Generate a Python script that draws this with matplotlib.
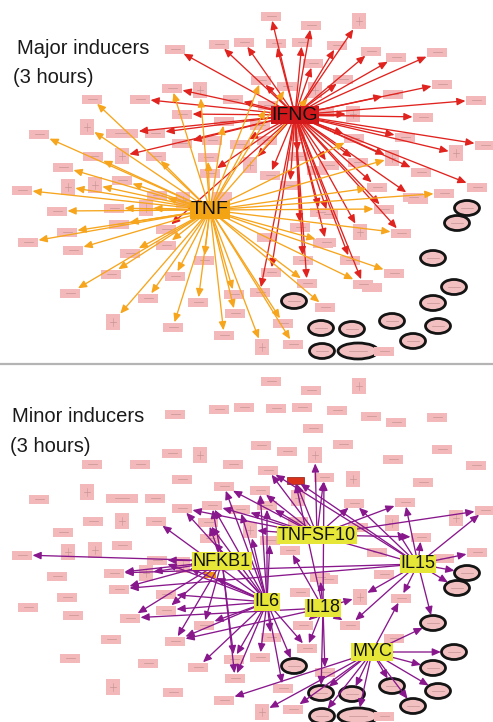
import numpy as np
import matplotlib.pyplot as plt
from matplotlib.patches import Rectangle, Ellipse, FancyArrowPatch
from matplotlib.lines import Line2D

plt.rcParams['font.family'] = ['Liberation Sans', 'DejaVu Sans']

# gene layout in pixels (y down), shared by both panels
node_x = [175, 219, 244, 271, 311, 359, 276, 302, 337, 371, 396, 437, 313, 172, 200, 92, 140, 233, 261, 287,
          343, 442, 393, 476, 315, 182, 224, 268, 324, 353, 423, 39, 87, 122, 155, 182, 212, 405, 354, 485,
          93, 122, 156, 208, 63, 210, 456, 392, 421, 329, 358, 298, 22, 68, 95, 122, 157, 57, 114, 146,
          119, 67, 28, 73, 166, 166, 130, 204, 111, 175, 70, 148, 198, 234, 235, 113, 173, 224, 377, 413,
          444, 477, 467, 457, 384, 328, 360, 401, 300, 326, 303, 350, 433, 394, 307, 363, 454, 271, 260, 294,
          325, 433, 392, 321, 352, 438, 283, 413, 262, 293, 322, 358, 384, 260, 240, 267, 298, 250, 270, 183,
          290, 320]
node_y = [49, 44, 42, 16, 25, 21, 43, 42, 45, 51, 57, 52, 63, 88, 90, 99, 99, 99, 80, 86,
          79, 84, 94, 100, 90, 114, 121, 105, 112, 114, 117, 134, 127, 133, 133, 143, 140, 137, 138, 145,
          156, 156, 156, 157, 167, 173, 153, 158, 172, 165, 162, 156, 190, 187, 185, 180, 195, 211, 208, 208,
          224, 232, 242, 250, 229, 245, 253, 260, 274, 276, 293, 298, 302, 294, 313, 322, 327, 335, 187, 197,
          193, 187, 208, 223, 209, 214, 232, 233, 227, 242, 260, 260, 258, 273, 283, 284, 287, 272, 292, 301,
          307, 303, 321, 328, 329, 326, 323, 341, 347, 344, 351, 351, 351, 125, 144, 140, 133, 165, 175, 200,
          185, 212]
# n = plain box, t = tall box, w = wide box, c = circled, C = wide circled
node_kind = ("nnnnntnnnnnnnntnnnnn"
             "nnnntnnnntnntwnnnnnn"
             "ntnnnnttnnnnnttnnnnt"
             "nnnnnnnnnnnnnnntnnnn"
             "nnccnntnnnnncnnncnnc"
             "ncccccnctncCnnnnttnt"
             "nn")

major_names = ['IFNG', 'TNF']
major_x = [295, 210]
major_y = [115, 210]

minor_names = ['NFKB1', 'TNFSF10', 'IL15', 'IL6', 'IL18', 'MYC']
minor_x = [222, 317, 418, 267, 323, 372]
minor_y = [196, 170, 199, 237, 243, 287]

ifng_targets = [0, 1, 2, 3, 4, 5, 6, 7, 8, 9, 10, 11, 12, 13, 16, 17, 18, 20, 21, 22, 23, 25, 28, 29, 30,
                33, 34, 37, 39, 41, 46, 47, 48, 49, 50, 78, 79, 81, 84, 85, 86, 87, 88, 89, 90, 91, 94, 95,
                97, 98, 64, 35, 45, 117, 118, 120, 121, 51, 38, 114, 113, 116]
tnf_targets = [13, 14, 15, 18, 19, 24, 26, 27, 31, 32, 38, 40, 44, 47, 52, 53, 54, 55, 56, 57, 58, 59, 60,
               61, 62, 63, 65, 66, 67, 68, 69, 70, 71, 72, 73, 74, 75, 76, 77, 78, 80, 84, 87, 89, 93, 94,
               95, 100, 106, 108, 109, 42, 43, 119]

nfkb1_targets = [52, 56, 58, 59, 60, 65, 66, 69, 67, 73, 74, 36, 43, 119, 'TNF']
tnfsf10_targets = [27, 24, 'IFNG', 28, 38, 37, 39, 48, 113, 26, 115, 117, 114, 35]
il15_targets = [81, 82, 83, 92, 87, 80, 47, 48, 39, 37, 38, 36, 86, 91, 58, 60, 'IFNG', 27]
il6_targets = [26, 35, 36, 43, 45, 42, 119, 67, 69, 73, 74, 97, 98, 99, 106, 94, 72, 64, 65, 113, 114,
               115, 117, 118, 'TNF', 56]
il18_targets = [28, 'IFNG', 91, 94, 100, 103, 89, 90, 120, 121, 66, 69, 86]
myc_targets = [92, 96, 101, 105, 107, 102, 111, 104, 103, 110, 109, 93, 87, 77, 108]

PINK = '#f3b9ba'
RED = '#e0231e'
ORANGE = '#f6a51c'
PURPLE = '#88178c'
YELLOW = '#e6e638'

half = {'n': (10, 4.5), 't': (7, 8), 'w': (16, 4.5), 'c': (12.5, 7.5), 'C': (20, 8),
        'ifng': (8.5, 3.5), 'tnf': (6, 3)}


def target_info(t):
    if t == 'IFNG':
        return major_x[0], major_y[0], 'ifng'
    if t == 'TNF':
        return major_x[1], major_y[1], 'tnf'
    return node_x[t], node_y[t], node_kind[t]


def draw_nodes(ax):
    for x, y, k in zip(node_x, node_y, node_kind):
        hw, hh = half[k]
        if k in 'cC':
            ax.add_patch(Ellipse((x, y), 2 * hw, 2 * hh, fc='#f2c0c0', ec='#141414', lw=2.0, zorder=1))
        else:
            ax.add_patch(Rectangle((x - hw, y - hh), 2 * hw, 2 * hh, fc=PINK, ec='none', zorder=1))
        ax.plot([x - hw * 0.45, x + hw * 0.45], [y, y], color='#c49393', lw=0.5, zorder=1.2)
        if k == 't':
            ax.plot([x, x], [y - hh * 0.5, y + hh * 0.5], color='#c49393', lw=0.4, zorder=1.2)


def draw_edges(ax, sx, sy, targets, color):
    for t in targets:
        tx, ty, k = target_info(t)
        hw, hh = half[k]
        dx, dy = tx - sx, ty - sy
        if k in 'cC':
            f = 1 / np.hypot(dx / hw, dy / hh)
        else:
            f = min(hw / abs(dx) if dx else np.inf, hh / abs(dy) if dy else np.inf)
        ex, ey = tx - dx * f * 1.05, ty - dy * f * 1.05
        ax.add_patch(FancyArrowPatch((sx, sy), (ex, ey),
                                     arrowstyle='-|>,head_length=0.5,head_width=0.22',
                                     mutation_scale=10, color=color, lw=0.95,
                                     shrinkA=0, shrinkB=0, zorder=2))


def hub_label(ax, x, y, name, fc, size=14):
    ax.text(x, y, name, ha='center', va='center', fontsize=size, color='#111111', zorder=4,
            bbox=dict(boxstyle='square,pad=0.05', fc=fc, ec='none'))


fig = plt.figure(figsize=(4.93, 7.22), dpi=100)
top = fig.add_axes([0, 1 - 363 / 722, 1, 363 / 722])
bottom = fig.add_axes([0, 0, 1, 357 / 722])
for ax, h in ((top, 363), (bottom, 357)):
    ax.set_xlim(0, 493)
    ax.set_ylim(h, 0)
    ax.axis('off')

# Major inducers
draw_nodes(top)
for x, y in zip(minor_x, minor_y):
    top.add_patch(Rectangle((x - 10, y - 4.5), 20, 9, fc=PINK, ec='none', zorder=1))
draw_edges(top, major_x[0], major_y[0], ifng_targets, RED)
draw_edges(top, major_x[1], major_y[1], tnf_targets, ORANGE)
hub_label(top, major_x[0], major_y[0], 'IFNG', '#d2181b')
hub_label(top, major_x[1], major_y[1], 'TNF', '#f3a414')
top.text(17, 54, 'Major inducers', fontsize=14.5, color='#1a1a1a', va='baseline')
top.text(13, 83, '(3 hours)', fontsize=14.5, color='#1a1a1a', va='baseline')

# Minor inducers
draw_nodes(bottom)
bottom.add_patch(Rectangle((major_x[0] - 8.5, major_y[0] - 3.5), 17, 7, fc='#d9301a', ec='#8a1a10',
                           lw=0.5, zorder=1))
bottom.add_patch(Rectangle((major_x[1] - 6, major_y[1] - 3), 12, 6, fc='#ee9412', ec='none', zorder=1))
minor_targets = [nfkb1_targets, tnfsf10_targets, il15_targets, il6_targets, il18_targets, myc_targets]
for x, y, targets in zip(minor_x, minor_y, minor_targets):
    draw_edges(bottom, x, y, targets, PURPLE)
for x, y, name in zip(minor_x, minor_y, minor_names):
    hub_label(bottom, x, y, name, YELLOW, size=13)
bottom.text(12, 57, 'Minor inducers', fontsize=14.5, color='#1a1a1a', va='baseline')
bottom.text(10, 87, '(3 hours)', fontsize=14.5, color='#1a1a1a', va='baseline')

fig.add_artist(Line2D([0, 1], [1 - 364 / 722] * 2, color='#b4b4b4', lw=1.6))

fig.savefig('out.png', dpi=100)
